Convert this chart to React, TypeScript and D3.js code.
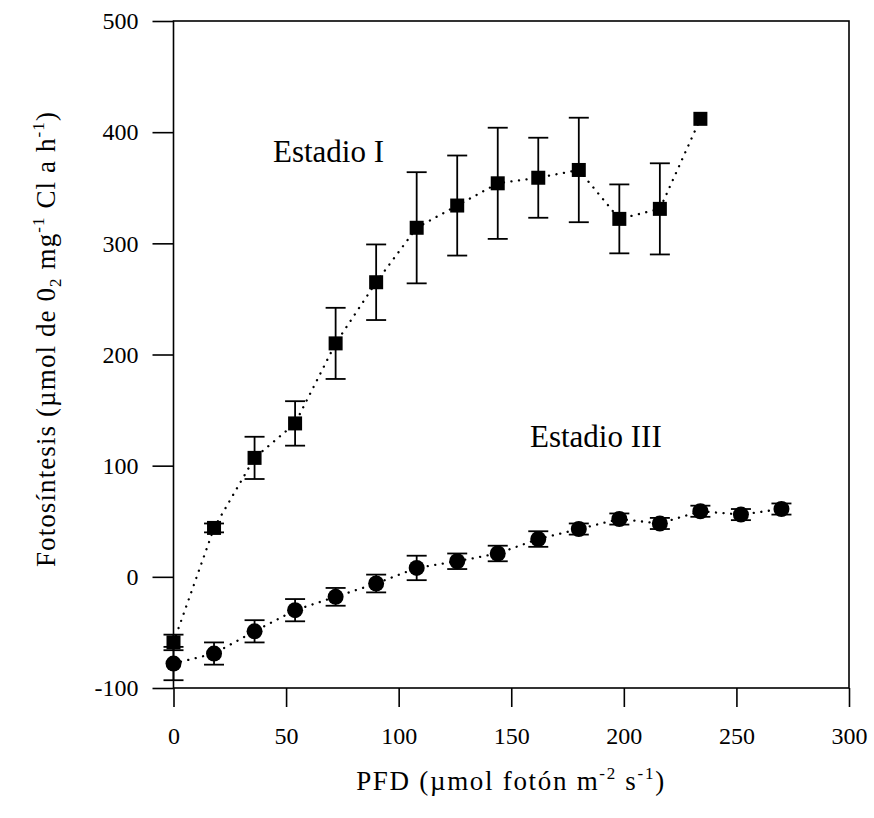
import React, { useEffect, useRef } from 'react';
import * as d3 from 'd3';

// Estadio I (squares)
const pfdI = [0, 18, 36, 54, 72, 90, 108, 126, 144, 162, 180, 198, 216, 234];
const fotoI = [-59, 44, 107, 138, 210, 265, 314, 334, 354, 359, 366, 322, 331, 412];
const errI = [7, 4, 19, 20, 32, 34, 50, 45, 50, 36, 47, 31, 41, 0];

// Estadio III (circles)
const pfdIII = [0, 18, 36, 54, 72, 90, 108, 126, 144, 162, 180, 198, 216, 234, 252, 270];
const fotoIII = [-78, -69, -49, -30, -18, -6, 8, 14, 21, 34, 43, 52, 48, 59, 56, 61];
const errIII = [15, 10, 10, 10, 8, 8, 11, 7, 7, 7, 5, 5, 5, 5, 5, 5];

const xTicks = [0, 50, 100, 150, 200, 250, 300];
const yTicks = [-100, 0, 100, 200, 300, 400, 500];

const FONT = 'Liberation Serif, Times New Roman, serif';

export default function App() {
  const svgRef = useRef<SVGSVGElement>(null);

  useEffect(() => {
    const width = 874;
    const height = 818;
    const left = 173.5, right = 849, top = 21, bottom = 688;

    const svg = d3.select(svgRef.current).attr('width', width).attr('height', height);
    svg.selectAll('*').remove();
    svg.append('rect').attr('width', width).attr('height', height).attr('fill', '#fff');

    const x = d3.scaleLinear().domain([0, 300]).range([left, right]);
    const y = d3.scaleLinear().domain([-100, 500]).range([bottom, top]);

    // frame
    svg.append('rect')
      .attr('x', left).attr('y', top).attr('width', right - left).attr('height', bottom - top)
      .attr('fill', 'none').attr('stroke', '#000').attr('stroke-width', 1.6);

    // axes (plain hyphen minus like the original)
    const gx = svg.append('g').attr('transform', `translate(0,${bottom})`)
      .call(d3.axisBottom(x).tickValues(xTicks).tickSize(19).tickSizeOuter(0).tickPadding(20)
        .tickFormat(d => String(d)));
    const gy = svg.append('g').attr('transform', `translate(${left},0)`)
      .call(d3.axisLeft(y).tickValues(yTicks).tickSize(21).tickSizeOuter(0).tickPadding(14)
        .tickFormat(d => String(d)));
    [gx, gy].forEach(g => {
      g.attr('font-family', FONT).attr('font-size', 24);
      g.select('.domain').remove();
      g.selectAll('line').attr('stroke', '#000').attr('stroke-width', 1.6);
      g.selectAll('text').attr('fill', '#000').style('font-family', FONT).style('font-size', '24px');
    });

    // dotted connecting lines
    const line = d3.line<[number, number]>().x(d => x(d[0])).y(d => y(d[1]));
    const dotted = (xs: number[], ys: number[]) =>
      svg.append('path')
        .attr('d', line(xs.map((v, i) => [v, ys[i]]) as [number, number][]))
        .attr('fill', 'none').attr('stroke', '#000').attr('stroke-width', 2.3)
        .attr('stroke-linecap', 'round').attr('stroke-dasharray', '0.1 7.5');
    dotted(pfdI, fotoI);
    dotted(pfdIII, fotoIII);

    // markers
    svg.append('g').selectAll('rect').data(pfdI).join('rect')
      .attr('x', d => x(d) - 7).attr('y', (d, i) => y(fotoI[i]) - 7)
      .attr('width', 14).attr('height', 14).attr('fill', '#000');
    svg.append('g').selectAll('circle').data(pfdIII).join('circle')
      .attr('cx', d => x(d)).attr('cy', (d, i) => y(fotoIII[i])).attr('r', 8).attr('fill', '#000');

    // error bars
    const errBars = (xs: number[], ys: number[], es: number[]) => {
      const g = svg.append('g').attr('stroke', '#000').attr('stroke-width', 1.8);
      xs.forEach((v, i) => {
        if (!es[i]) return;
        const cx = x(v), y1 = y(ys[i] + es[i]), y2 = y(ys[i] - es[i]);
        g.append('line').attr('x1', cx).attr('x2', cx).attr('y1', y1).attr('y2', y2);
        g.append('line').attr('x1', cx - 10).attr('x2', cx + 10).attr('y1', y1).attr('y2', y1);
        g.append('line').attr('x1', cx - 10).attr('x2', cx + 10).attr('y1', y2).attr('y2', y2);
      });
    };
    errBars(pfdI, fotoI, errI);
    errBars(pfdIII, fotoIII, errIII);

    // series labels
    svg.append('text').attr('x', 273).attr('y', 162).attr('font-family', FONT)
      .attr('font-size', 31).text('Estadio I');
    svg.append('text').attr('x', 530).attr('y', 447).attr('font-family', FONT)
      .attr('font-size', 31).text('Estadio III');

    // x title
    const xt = svg.append('text').attr('x', 511).attr('y', 790).attr('text-anchor', 'middle')
      .attr('font-family', FONT).attr('font-size', 27).attr('letter-spacing', 1.7);
    xt.append('tspan').text('PFD (µmol fotón m');
    xt.append('tspan').attr('dy', -11).attr('font-size', 17).text('-2');
    xt.append('tspan').attr('dy', 11).text(' s');
    xt.append('tspan').attr('dy', -11).attr('font-size', 17).text('-1');
    xt.append('tspan').attr('dy', 11).text(')');

    // y title
    const yt = svg.append('text').attr('transform', 'translate(55,339) rotate(-90)')
      .attr('text-anchor', 'middle').attr('font-family', FONT).attr('font-size', 27)
      .attr('letter-spacing', 1.1);
    yt.append('tspan').text('Fotosíntesis (µmol de 0');
    yt.append('tspan').attr('dy', 6).attr('font-size', 17).text('2');
    yt.append('tspan').attr('dy', -6).text(' mg');
    yt.append('tspan').attr('dy', -11).attr('font-size', 17).text('-1');
    yt.append('tspan').attr('dy', 11).text(' Cl a h');
    yt.append('tspan').attr('dy', -11).attr('font-size', 17).text('-1');
    yt.append('tspan').attr('dy', 11).text(')');
  }, []);

  return (
    <div style={{ position: 'absolute', left: 0, top: 0 }}>
      <svg ref={svgRef} style={{ display: 'block' }} />
    </div>
  );
}
